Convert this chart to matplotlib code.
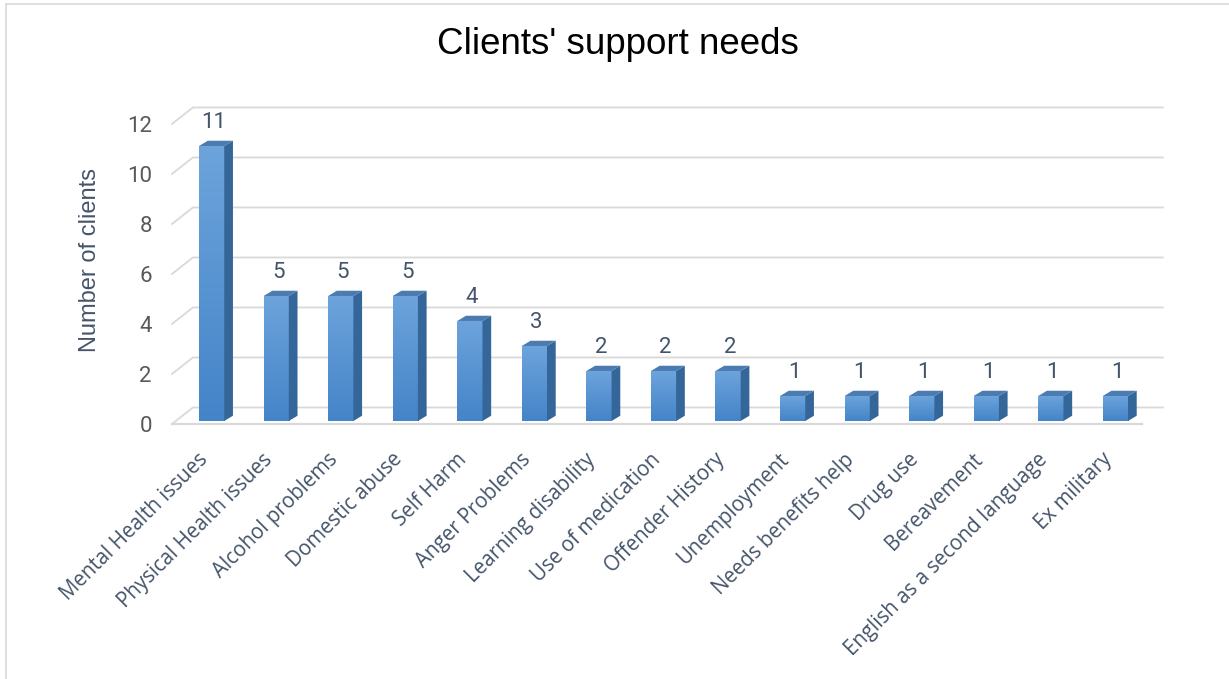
import numpy as np
import matplotlib.pyplot as plt
from matplotlib.patches import Polygon, Rectangle
from matplotlib.lines import Line2D
from matplotlib.colors import LinearSegmentedColormap

categories = ["Mental Health issues", "Physical Health issues", "Alcohol problems",
              "Domestic abuse", "Self Harm", "Anger Problems", "Learning disability",
              "Use of medication", "Offender History", "Unemployment",
              "Needs benefits help", "Drug use", "Bereavement",
              "English as a second language", "Ex military"]
counts = [11, 5, 5, 5, 4, 3, 2, 2, 2, 1, 1, 1, 1, 1, 1]
y_ticks = [0, 2, 4, 6, 8, 10, 12]

fig = plt.figure(figsize=(12.29, 6.79), dpi=100)
ax = fig.add_axes([0.1302, 0.352, 0.8299, 0.5155])
xlim = (-0.8, 15.0)
ylim = (-0.64, 13.36)
ax.axis('off')

grid_col = '#D9D9D9'
# back wall / floor offset for the 3-D look
wall_dx, wall_dy = 0.325, 0.66
x0, x1 = -0.615, 14.41
for t in y_ticks:
    ax.plot([x0, x0 + wall_dx, x1 + wall_dx], [t, t + wall_dy, t + wall_dy],
            color=grid_col, lw=1.3, zorder=1, solid_joinstyle='miter')
    ax.text(-0.925, t - 0.12, str(t), ha='right', va='center', fontsize=16,
            family='Roboto', color='#595959')
ax.plot([x0, x1], [0, 0], color=grid_col, lw=1.6, zorder=1)

# bars: gradient front face, darker side and top faces
front_cmap = LinearSegmentedColormap.from_list('front', ['#4484C8', '#6DA4DC'])
w = 0.39
ddx, ddy = 0.135, 0.21
base = 0.12
grad = np.linspace(0, 1, 256).reshape(-1, 1)
for i, v in enumerate(counts):
    left, right, top = i - w / 2, i + w / 2, base + v
    face = Rectangle((left, base), w, v, facecolor='none', edgecolor='none')
    ax.add_patch(face)
    im = ax.imshow(grad, cmap=front_cmap, origin='lower', aspect='auto',
                   extent=(left, right, base, top), zorder=3)
    im.set_clip_path(face)
    side = Polygon([(right, base), (right + ddx, base + ddy),
                    (right + ddx, top + ddy), (right, top)],
                   closed=True, facecolor='#35669A', edgecolor='none', zorder=3)
    cap = Polygon([(left, top), (left + ddx, top + ddy),
                   (right + ddx, top + ddy), (right, top)],
                  closed=True, facecolor='#4B7BB0', edgecolor='none', zorder=3)
    ax.add_patch(side)
    ax.add_patch(cap)
    ax.text(i + 0.03, top + 0.92, str(v), ha='center', va='center',
            fontsize=16, family='Roboto', color='#44546A')
    ax.text(i - 0.1, -1.3, categories[i], rotation=45, ha='right',
            va='center', rotation_mode='anchor', fontsize=14.8,
            family='Open Sans', color='#44546A')

ax.set_xlim(*xlim)
ax.set_ylim(*ylim)

fig.text(618 / 1229, 1 - 45 / 679, "Clients' support needs", ha='center',
         va='center', fontsize=26.5, family='Liberation Sans', color='black')
fig.text(90 / 1229, 1 - 260 / 679, 'Number of clients', rotation=90,
         ha='center', va='center', fontsize=17, family='Liberation Sans',
         color='#44546A')

# chart border
fig.add_artist(Line2D([6 / 1229, 6 / 1229], [0, 1 - 4 / 679],
                      transform=fig.transFigure, color=grid_col, lw=1.2))
fig.add_artist(Line2D([6 / 1229, 1], [1 - 4 / 679, 1 - 4 / 679],
                      transform=fig.transFigure, color=grid_col, lw=1.2))

fig.savefig('out.png', dpi=100)
